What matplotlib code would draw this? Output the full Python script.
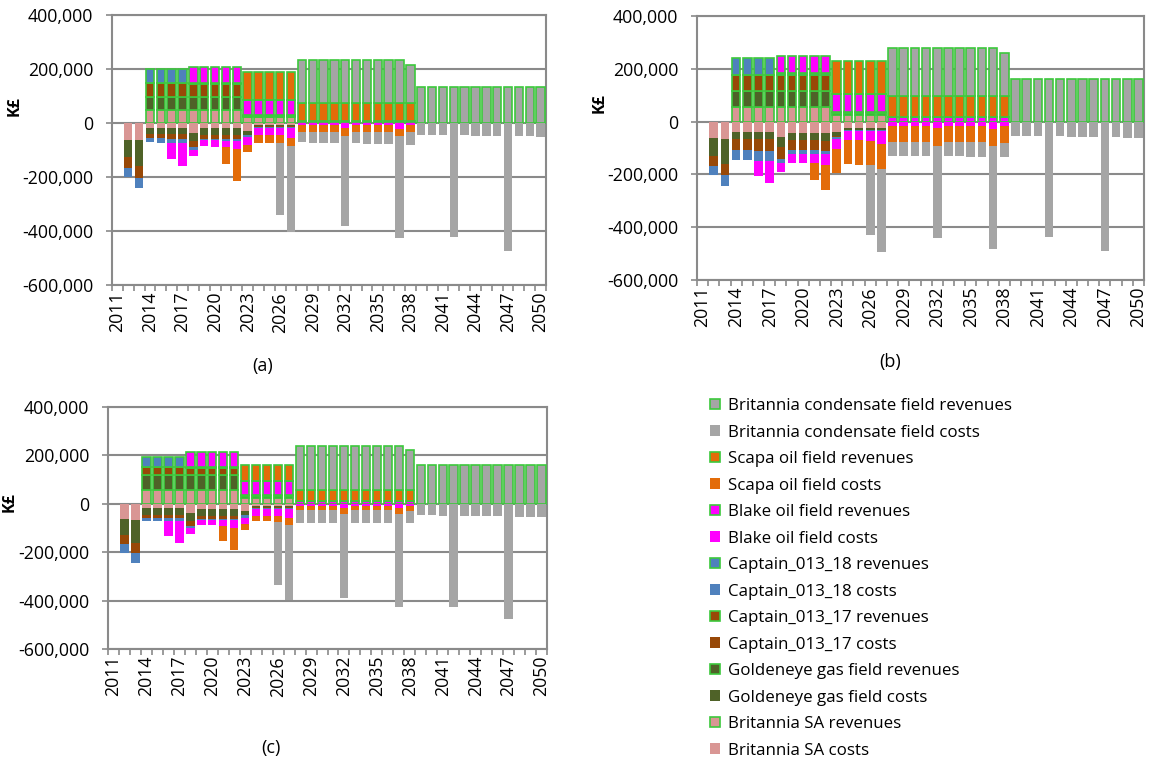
import numpy as np
import matplotlib
matplotlib.use('Agg')
import matplotlib.pyplot as plt
from matplotlib.patches import Patch
from matplotlib.ticker import FuncFormatter

plt.rcParams['font.family'] = ['Open Sans', 'DejaVu Sans']

years = list(range(2011, 2051))
UNIT = 1000  # values below are in thousands of the axis unit (K£)

# groups: 2011 | 2012-13 | 2014-17 | 2018-22 | 2023-27 | 2028-37 | 2038 | 2039-50
# ---------------- panel (a) revenues ----------------
a_sa_rev   = [0, 0,0, 47,47,47,47, 47,47,47,47,47, 22,22,22,22,22, 0,0,0,0,0,0,0,0,0,0, 0, 0,0,0,0,0,0,0,0,0,0,0,0]
a_gold_rev = [0, 0,0, 50,50,50,50, 49,49,49,49,49, 4,4,4,4,4, 0,0,0,0,0,0,0,0,0,0, 0, 0,0,0,0,0,0,0,0,0,0,0,0]
a_c17_rev  = [0, 0,0, 52,52,52,52, 49,49,49,49,49, 3,3,3,3,3, 0,0,0,0,0,0,0,0,0,0, 0, 0,0,0,0,0,0,0,0,0,0,0,0]
a_c18_rev  = [0, 0,0, 51,51,51,51, 3,3,3,3,3, 2,2,2,2,2, 0,0,0,0,0,0,0,0,0,0, 0, 0,0,0,0,0,0,0,0,0,0,0,0]
a_blake_rev = [0, 0,0, 0,0,0,0, 60,60,60,60,60, 56,56,56,56,56, 8,8,8,8,8,8,8,8,8,8, 8, 0,0,0,0,0,0,0,0,0,0,0,0]
a_scapa_rev = [0, 0,0, 0,0,0,0, 0,0,0,0,0, 103,103,103,103,103, 65,65,65,65,65,65,65,65,65,65, 65, 0,0,0,0,0,0,0,0,0,0,0,0]
a_cond_rev = [0, 0,0, 0,0,0,0, 0,0,0,0,0, 0,0,0,0,0, 160,160,160,160,160,160,160,160,160,160, 142,
              135,135,135,135,135,135,135,135,135,135,135,135]
# ---------------- panel (a) costs ----------------
a_sa_cost   = [0, 62,64, 18,18,18,18, 37,18,18,18,18, 28,7,7,7,7, 0,0,0,0,0,0,0,0,0,0, 0, 0,0,0,0,0,0,0,0,0,0,0,0]
a_gold_cost = [0, 64,96, 21,21,24,24, 31,28,28,25,25, 15,5,5,5,5, 0,0,0,0,0,0,0,0,0,0, 0, 0,0,0,0,0,0,0,0,0,0,0,0]
a_c17_cost  = [0, 41,43, 16,16,16,16, 22,12,12,16,16, 2,2,2,2,2, 0,0,0,0,0,0,0,0,0,0, 0, 0,0,0,0,0,0,0,0,0,0,0,0]
a_c18_cost  = [0, 33,37, 16,18,15,15, 9,6,6,6,6, 8,3,3,3,3, 0,0,0,0,0,0,0,0,0,0, 0, 0,0,0,0,0,0,0,0,0,0,0,0]
a_blake_cost = [0, 0,0, 0,0,59,86, 25,23,24,23,33, 28,26,26,26,37, 7,7,7,7,20,7,7,7,7,21, 8, 0,0,0,0,0,0,0,0,0,0,0,0]
a_scapa_cost = [0, 0,0, 0,0,0,0, 0,0,0,65,115, 28,30,31,32,33, 25,25,25,25,27,25,25,25,25,26, 27, 0,0,0,0,0,0,0,0,0,0,0,0]
a_cond_cost = [0, 0,0, 0,0,0,0, 0,0,0,0,0, 0,0,0,266,318, 40,41,41,42,336,43,44,45,46,378, 45,
               43,43,44,424,46,47,47,47,474,49,49,51]

# ---------------- panel (b) revenues ----------------
b_sa_rev   = [0, 0,0, 54,54,54,54, 54,54,54,54,54, 25,25,25,25,25, 0,0,0,0,0,0,0,0,0,0, 0, 0,0,0,0,0,0,0,0,0,0,0,0]
b_gold_rev = [0, 0,0, 63,63,63,63, 63,63,63,63,63, 6,6,6,6,6, 0,0,0,0,0,0,0,0,0,0, 0, 0,0,0,0,0,0,0,0,0,0,0,0]
b_c17_rev  = [0, 0,0, 60,60,60,60, 60,60,60,60,60, 3,3,3,3,3, 0,0,0,0,0,0,0,0,0,0, 0, 0,0,0,0,0,0,0,0,0,0,0,0]
b_c18_rev  = [0, 0,0, 63,63,63,63, 6,6,6,6,6, 2,2,2,2,2, 0,0,0,0,0,0,0,0,0,0, 0, 0,0,0,0,0,0,0,0,0,0,0,0]
b_blake_rev = [0, 0,0, 0,0,0,0, 66,66,66,66,66, 67,67,67,67,67, 16,16,16,16,16,16,16,16,16,16, 16, 0,0,0,0,0,0,0,0,0,0,0,0]
b_scapa_rev = [0, 0,0, 0,0,0,0, 0,0,0,0,0, 125,125,125,125,125, 82,82,82,82,82,82,82,82,82,82, 82, 0,0,0,0,0,0,0,0,0,0,0,0]
b_cond_rev = [0, 0,0, 0,0,0,0, 0,0,0,0,0, 0,0,0,0,0, 182,182,182,182,182,182,182,182,182,182, 163,
              162,162,162,162,162,162,162,162,162,162,162,162]
# ---------------- panel (b) costs ----------------
b_sa_cost   = [0, 63,67, 38,38,38,38, 57,42,42,42,42, 38,25,25,25,25, 0,0,0,0,0,0,0,0,0,0, 0, 0,0,0,0,0,0,0,0,0,0,0,0]
b_gold_cost = [0, 67,95, 29,29,29,29, 38,28,28,28,30, 16,6,6,6,6, 0,0,0,0,0,0,0,0,0,0, 0, 0,0,0,0,0,0,0,0,0,0,0,0]
b_c17_cost  = [0, 38,40, 40,40,44,44, 47,38,38,38,38, 3,2,2,2,2, 0,0,0,0,0,0,0,0,0,0, 0, 0,0,0,0,0,0,0,0,0,0,0,0]
b_c18_cost  = [0, 34,42, 38,38,38,38, 14,13,13,14,12, 10,3,3,3,3, 0,0,0,0,0,0,0,0,0,0, 0, 0,0,0,0,0,0,0,0,0,0,0,0]
b_blake_cost = [0, 0,0, 0,0,57,85, 34,35,35,35,42, 38,34,34,37,47, 16,16,16,16,25,16,16,16,16,28, 16, 0,0,0,0,0,0,0,0,0,0,0,0]
b_scapa_cost = [0, 0,0, 0,0,0,0, 0,0,0,63,95, 91,92,95,92,95, 62,62,62,62,66,62,62,62,62,65, 66, 0,0,0,0,0,0,0,0,0,0,0,0]
b_cond_cost = [0, 0,0, 0,0,0,0, 0,0,0,0,0, 0,0,0,266,316, 51,51,51,52,351,54,54,55,56,390, 52,
               53,53,54,439,56,57,57,58,490,60,61,61]

# ---------------- panel (c) revenues ----------------
c_sa_rev   = [0, 0,0, 55,55,55,55, 55,55,55,55,55, 23,23,23,23,23, 0,0,0,0,0,0,0,0,0,0, 0, 0,0,0,0,0,0,0,0,0,0,0,0]
c_gold_rev = [0, 0,0, 64,64,64,64, 64,64,64,64,64, 8,8,8,8,8, 0,0,0,0,0,0,0,0,0,0, 0, 0,0,0,0,0,0,0,0,0,0,0,0]
c_c17_rev  = [0, 0,0, 33,33,33,33, 28,28,28,28,28, 4,4,4,4,4, 0,0,0,0,0,0,0,0,0,0, 0, 0,0,0,0,0,0,0,0,0,0,0,0]
c_c18_rev  = [0, 0,0, 43,43,43,43, 5,5,5,5,5, 3,3,3,3,3, 0,0,0,0,0,0,0,0,0,0, 0, 0,0,0,0,0,0,0,0,0,0,0,0]
c_blake_rev = [0, 0,0, 0,0,0,0, 60,60,60,60,60, 55,55,55,55,55, 12,12,12,12,12,12,12,12,12,12, 12, 0,0,0,0,0,0,0,0,0,0,0,0]
c_scapa_rev = [0, 0,0, 0,0,0,0, 0,0,0,0,0, 67,67,67,67,67, 45,45,45,45,45,45,45,45,45,45, 45, 0,0,0,0,0,0,0,0,0,0,0,0]
c_cond_rev = [0, 0,0, 0,0,0,0, 0,0,0,0,0, 0,0,0,0,0, 183,183,183,183,183,183,183,183,183,183, 165,
              160,160,160,160,160,160,160,160,160,160,160,160]
# ---------------- panel (c) costs ----------------
c_sa_cost   = [0, 63,66, 18,18,18,18, 38,22,22,22,22, 31,8,8,8,8, 0,0,0,0,0,0,0,0,0,0, 0, 0,0,0,0,0,0,0,0,0,0,0,0]
c_gold_cost = [0, 64,96, 27,27,27,27, 34,27,27,27,27, 14,6,6,6,6, 0,0,0,0,0,0,0,0,0,0, 0, 0,0,0,0,0,0,0,0,0,0,0,0]
c_c17_cost  = [0, 41,41, 14,14,14,14, 18,12,12,12,12, 2,3,3,3,3, 0,0,0,0,0,0,0,0,0,0, 0, 0,0,0,0,0,0,0,0,0,0,0,0]
c_c18_cost  = [0, 34,41, 11,11,14,14, 10,4,4,6,6, 10,3,3,3,3, 0,0,0,0,0,0,0,0,0,0, 0, 0,0,0,0,0,0,0,0,0,0,0,0]
c_blake_cost = [0, 0,0, 0,0,61,89, 23,23,24,25,31, 27,29,29,29,38, 8,8,8,8,19,8,8,8,8,18, 8, 0,0,0,0,0,0,0,0,0,0,0,0]
c_scapa_cost = [0, 0,0, 0,0,0,0, 0,0,0,61,93, 25,23,24,27,30, 18,18,18,18,25,18,18,18,18,24, 20, 0,0,0,0,0,0,0,0,0,0,0,0]
c_cond_cost = [0, 0,0, 0,0,0,0, 0,0,0,0,0, 0,0,0,259,311, 52,52,52,53,345,54,54,55,55,383, 52,
               48,48,49,427,51,51,52,52,477,53,54,55]

# stacking order from zero outward
series_names = ['Britannia SA', 'Goldeneye gas field', 'Captain_013_17',
                'Captain_013_18', 'Blake oil field', 'Scapa oil field',
                'Britannia condensate field']
series_colors = ['#D99694', '#4F6228', '#984807', '#4F81BD', '#FF00FF',
                 '#E36C09', '#A5A5A5']
GREEN = '#3CC83C'
GRID = '#8A8A8A'
FS = 12.8

yticks = [-600000, -400000, -200000, 0, 200000, 400000]


def draw_panel(ax, revs, costs, label_xy):
    x = np.arange(len(years))
    pos = np.zeros(len(years))
    neg = np.zeros(len(years))
    for vals, color in zip(revs, series_colors):
        v = np.array(vals, float) * UNIT
        m = v > 0
        ax.bar(x[m], v[m], bottom=pos[m], width=0.77, color=color,
               edgecolor=GREEN, linewidth=1.2, zorder=3)
        pos += v
    for vals, color in zip(costs, series_colors):
        v = np.array(vals, float) * UNIT
        m = v > 0
        ax.bar(x[m], -v[m], bottom=neg[m], width=0.77, color=color,
               linewidth=0, zorder=3)
        neg -= v
    ax.set_xlim(-0.5, len(years) - 0.5)
    ax.set_ylim(-600000, 400000)
    ax.set_yticks(yticks)
    ax.yaxis.set_major_formatter(FuncFormatter(lambda v, p: f'{int(v):,}'))
    ax.grid(axis='y', color=GRID, linewidth=1.5, zorder=0)
    ax.set_axisbelow(True)
    ax.set_xticks(x[::3])
    ax.set_xticklabels([str(y) for y in years[::3]], rotation=90)
    ax.set_xticks(np.arange(-0.5, len(years), 1), minor=True)
    ax.tick_params(axis='x', which='major', length=0, pad=5, labelsize=FS)
    ax.tick_params(axis='x', which='minor', length=4.5, width=1.2, color=GRID)
    ax.tick_params(axis='y', length=4.5, width=1.2, color=GRID, labelsize=FS, pad=9)
    for s in ax.spines.values():
        s.set_color(GRID)
        s.set_linewidth(1.5)
    ax.set_ylabel('K£', fontweight='bold', fontsize=11.5)
    ax.yaxis.set_label_coords(*label_xy)


W, H = 1151, 768
fig = plt.figure(figsize=(W / 100, H / 100), dpi=100)
ax_a = fig.add_axes([112 / W, 1 - 285 / H, 434 / W, 270 / H])
ax_b = fig.add_axes([697 / W, 1 - 280 / H, 447 / W, 264 / H])
ax_c = fig.add_axes([108 / W, 1 - 649 / H, 439 / W, 242 / H])

draw_panel(ax_a,
           [a_sa_rev, a_gold_rev, a_c17_rev, a_c18_rev, a_blake_rev, a_scapa_rev, a_cond_rev],
           [a_sa_cost, a_gold_cost, a_c17_cost, a_c18_cost, a_blake_cost, a_scapa_cost, a_cond_cost],
           (-0.207, 0.663))
draw_panel(ax_b,
           [b_sa_rev, b_gold_rev, b_c17_rev, b_c18_rev, b_blake_rev, b_scapa_rev, b_cond_rev],
           [b_sa_cost, b_gold_cost, b_c17_cost, b_c18_cost, b_blake_cost, b_scapa_cost, b_cond_cost],
           (-0.201, 0.67))
draw_panel(ax_c,
           [c_sa_rev, c_gold_rev, c_c17_rev, c_c18_rev, c_blake_rev, c_scapa_rev, c_cond_rev],
           [c_sa_cost, c_gold_cost, c_c17_cost, c_c18_cost, c_blake_cost, c_scapa_cost, c_cond_cost],
           (-0.205, 0.607))

fig.text(263 / W, 1 - 366 / H, '(a)', ha='center', va='center', fontsize=13)
fig.text(890 / W, 1 - 362 / H, '(b)', ha='center', va='center', fontsize=13)
fig.text(271 / W, 1 - 748 / H, '(c)', ha='center', va='center', fontsize=13)

# legend (reverse of stacking order)
handles, labels = [], []
for name, color in zip(series_names[::-1], series_colors[::-1]):
    handles.append(Patch(facecolor=color, edgecolor=GREEN, linewidth=1.2))
    labels.append(f'{name} revenues')
    handles.append(Patch(facecolor=color, edgecolor='none'))
    labels.append(f'{name} costs')
fig.legend(handles, labels, loc='upper left',
           bbox_to_anchor=(710 / W, 1 - 398 / H), frameon=False,
           fontsize=12.2, handlelength=0.6, handleheight=0.6,
           handletextpad=0.45, labelspacing=0.62, borderpad=0,
           borderaxespad=0)

fig.savefig('out.png', dpi=100)
